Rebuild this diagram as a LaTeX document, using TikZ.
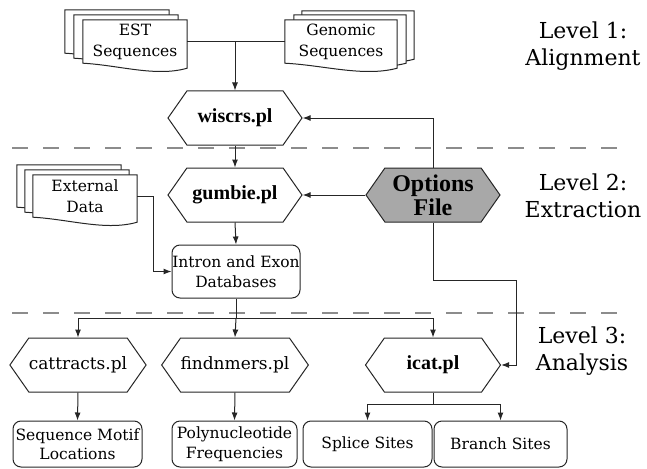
\documentclass[tikz,border=0pt]{standalone}
\usepackage{fontspec}
\setmainfont{DejaVu Serif}
\newfontfamily\tbf{Liberation Serif}
\usetikzlibrary{shapes.symbols,arrows.meta,calc}
\pgfdeclarelayer{bg}
\pgfsetlayers{bg,main}
\definecolor{linec}{HTML}{262626}
\definecolor{optfill}{HTML}{A8A8A8}
\definecolor{sepc}{HTML}{8C8C8C}
\newcommand\docsheet[3]{%
  \draw[docline] ($(#1.north west)+(#2,#3)$) -- ($(#1.north east)+(#2,#3)$) -- ($(#1.south east)+(#2,#3)+(0,5)$)
   .. controls ($(#1.south west)!0.7!(#1.south east)+(#2,#3)+(0,14)$) and ($(#1.south west)!0.35!(#1.south east)+(#2,#3)+(0,2)$) .. ($(#1.south west)+(#2,#3)$) -- cycle;}
\tikzset{
  hex/.style={signal, signal to=west and east, signal pointer angle=110, draw=linec, line width=1pt,
    minimum width=134pt, minimum height=54pt, inner sep=0pt, align=center, fill=white},
  hexb/.style={hex, font=\tbf\bfseries\fontsize{20}{22}\selectfont},
  hexr/.style={hex, font=\fontsize{17}{20}\selectfont},
  optbox/.style={hex, fill=optfill, font=\tbf\bfseries\fontsize{24}{24}\selectfont},
  rbox/.style={draw=linec, line width=1pt, rounded corners=8pt, inner sep=0pt, align=center,
    font=\fontsize{15.5}{19.5}\selectfont},
  docnode/.style={inner sep=0pt, align=center, font=\fontsize{15.5}{21}\selectfont, minimum height=43pt},
  docline/.style={draw=linec, line width=1pt, fill=white},
  conn/.style={draw=linec, line width=1pt},
  arr/.style={conn, -{Latex[length=8pt,width=6pt]}},
  level/.style={font=\fontsize{22}{27}\selectfont, align=center},
  sepline/.style={draw=sepc, line width=1.8pt, dash pattern=on 16pt off 15pt},
}
\begin{document}
\begin{tikzpicture}[x=1pt,y=-1pt]
\useasboundingbox (0,0) rectangle (647,468);
% level separators
\coordinate (s1l) at (12,148); \coordinate (s1r) at (618,148);
\coordinate (s2l) at (12,313); \coordinate (s2r) at (618,313);
\draw[sepline] (s1l) -- (s1r);
\draw[sepline] (s2l) -- (s2r);
% document stacks
\node[docnode, minimum width=104pt] (est) at (135,41.5) {EST\\Sequences};
\node[docnode, minimum width=112pt] (gen) at (341,41.5) {Genomic\\Sequences};
\node[docnode, minimum width=104pt, minimum height=42pt] (ext) at (85,196) {External\\Data};
\begin{pgfonlayer}{bg}
  \docsheet{est}{-18}{-10}\docsheet{est}{-9}{-5}\docsheet{est}{0}{0}
  \docsheet{gen}{17}{-9}\docsheet{gen}{9}{-5}\docsheet{gen}{0}{0}
  \docsheet{ext}{-16}{-10}\docsheet{ext}{-8}{-5}\docsheet{ext}{0}{0}
\end{pgfonlayer}
% programs
\node[hexb] (wiscrs) at (235,118) {wiscrs.pl};
\node[hexb] (gumbie) at (235,195) {gumbie.pl};
\node[optbox] (opt) at (433,195) {Options\\File};
\node[hexr, minimum width=135pt] (cat) at (78,365) {cattracts.pl};
\node[hexr] (find) at (235,365) {findnmers.pl};
\node[hexb, minimum width=135pt] (icat) at (433,365) {icat.pl};
% data boxes
\node[rbox, minimum width=128pt, minimum height=53pt] (intron) at (236,271.5) {Intron and Exon\\Databases};
\node[rbox, minimum width=129pt, minimum height=46pt] (seq) at (77.5,444) {Sequence Motif\\Locations};
\node[rbox, minimum width=125pt, minimum height=46pt] (poly) at (234.5,444) {Polynucleotide\\Frequencies};
\node[rbox, minimum width=129pt, minimum height=46pt] (splice) at (367.5,444) {Splice Sites};
\node[rbox, minimum width=133pt, minimum height=46pt] (branch) at (500.5,444) {Branch Sites};
% level labels
\node[level] (l1) at (583,46) {Level 1:\\Alignment};
\node[level] (l2) at (583,196) {Level 2:\\Extraction};
\node[level] (l3) at (582,351) {Level 3:\\Analysis};
% connectors
\draw[conn] (est.east) -- (gen.west);
\coordinate (j1) at (wiscrs.north |- est.east);
\draw[arr] (j1) -- (wiscrs.north);
\draw[arr] (wiscrs.south) -- (gumbie.north);
\draw[arr] (opt.north) |- (wiscrs.east);
\draw[arr] (opt.west) -- (gumbie.east);
\draw[arr] (gumbie.south) -- (intron.north);
\coordinate (e1) at ($(ext.east)+(16,0)$);
\draw[arr] (ext.east) -- (e1) |- (intron.west);
\coordinate (o1) at (516,280);
\draw[arr] (opt.south) |- (o1) |- (icat.east);
\coordinate (j2) at (intron.south |- 0,318);
\draw[conn] (intron.south) -- (j2);
\draw[arr] (j2) -| (cat.north);
\draw[arr] (j2) -- (find.north);
\draw[arr] (j2) -| (icat.north);
\draw[arr] (cat.south) -- (seq.north);
\draw[arr] (find.south) -- (poly.north);
\coordinate (j3) at (icat.south |- 0,404);
\draw[conn] (icat.south) -- (j3);
\draw[arr] (j3) -| (splice.north);
\draw[arr] (j3) -| (branch.north);
\end{tikzpicture}
\end{document}
